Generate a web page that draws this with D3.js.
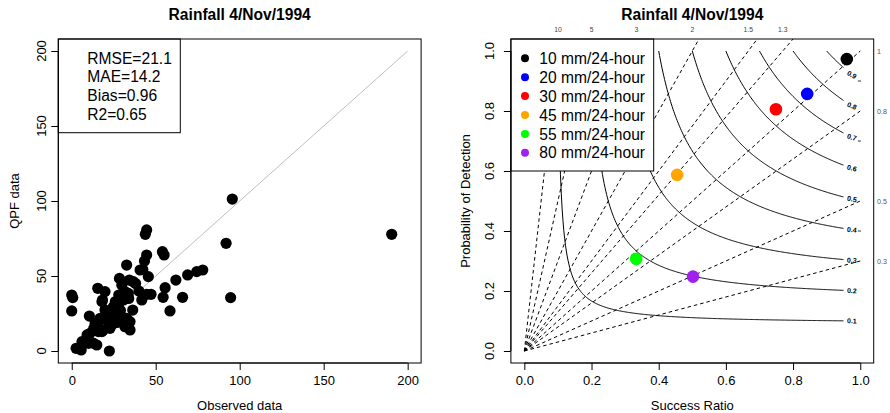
<!DOCTYPE html>
<html>
<head>
<meta charset="utf-8">
<script src="https://cdn.jsdelivr.net/npm/d3@7"></script>
<style>
  body { margin: 0; background: #fff; }
  svg { font-family: "Liberation Sans", Arial, Helvetica, sans-serif; }
</style>
</head>
<body>
<svg id="chart" width="890" height="413"></svg>
<script>
// ---- data: left panel (observed vs QPF, mm) ----
var observed = [190.5, 95.6, 91.9, 94.6,
  78, 74.4, 69, 62, 66, 58.5, 54, 55, 55.6, 54.4,
  44.6, 43.8, 44.6, 43.3, 42.3, 40.7, 45.6, 47.2, 44.6, 41.7, 40, 38,
  32.7, 28.4, 34.3, 36.7, 29.8, 31.7, 33.7, 30.8, 36.3, 27.8, 24.8, 22.8, 28.8, 32.7,
  34.7, 31.7, 34.7, 22.8, 28, 33.9, 31, 33.9, 26, 29, 25, 27,
  19.8, 15.5, 18.3, 18, 19.8, 16.9, 13.9, 10.5, 10.9, 15.9, 16, 13.1, 18, 20.8, 24.4, 18.8, 21,
  14.9, 9.9, 5.6, 2.6, 9.1, 6.1, 13.1, 22.4,
  0, 0.6, 0];
var qpfData = [77.8, 101.3, 71.8, 35.6,
  54, 52.9, 50.7, 47.3, 35.8, 26.7, 66.2, 64, 42.2, 35.8,
  80.7, 77.8, 64, 60, 54.4, 54, 49.6, 37.8, 37.8, 34, 40, 45,
  57.3, 48.4, 47.3, 46.2, 44, 39.6, 38.4, 34, 27.3, 30.7, 29.6, 25.1, 24, 21.8,
  19.6, 16.2, 14, 15.1, 37.3, 35, 21.8, 18.4, 33, 27, 22, 19,
  39.6, 41.8, 34, 32.9, 27.3, 21.8, 18.4, 23.3, 11.8, 12.9, 19.6, 15.1, 12.9, 20.7, 18, 14, 24,
  4, 5.1, 0.7, 1.8, 10.7, 6.2, 5.1, 0,
  37.3, 35.6, 26.7];
var statsText = ["RMSE=21.1", "MAE=14.2", "Bias=0.96", "R2=0.65"];
var leftTicks = [0, 50, 100, 150, 200];

// ---- data: right panel (performance diagram) ----
var thresholds = ["10 mm/24-hour", "20 mm/24-hour", "30 mm/24-hour",
                  "45 mm/24-hour", "55 mm/24-hour", "80 mm/24-hour"];
var successRatio = [0.96, 0.842, 0.749, 0.455, 0.333, 0.502];
var probDetect = [0.973, 0.857, 0.806, 0.587, 0.307, 0.248];
var thresholdColors = ["#000000", "#0000FF", "#FF0000", "#FFA500", "#00FF00", "#A020F0"];
var biasTop = [10, 5, 3, 2, 1.5, 1.3];
var biasRight = [1, 0.8, 0.5, 0.3];
var csiLevels = [0.1, 0.2, 0.3, 0.4, 0.5, 0.6, 0.7, 0.8, 0.9];
var edgeMarks = [0.9, 0.7, 0.4];
var rightTicks = [0, 0.2, 0.4, 0.6, 0.8, 1.0];

var svg = d3.select('#chart');
var fontBase = 13, fontTitle = 15.6, fontLegend = 15.6;

function frame(g, x, y) {
    g.append("rect")
        .attr("x", x.range()[0]).attr("y", y.range()[1])
        .attr("width", x.range()[1] - x.range()[0])
        .attr("height", y.range()[0] - y.range()[1])
        .attr("fill", "none").attr("stroke", "#000").attr("stroke-width", 1);
}

// R style axes: bottom ticks + rotated left labels
function axes(g, x, y, ticks, fmt, yLabelX) {
    var xa = d3.axisBottom(x).tickValues(ticks).tickSize(7).tickPadding(6).tickFormat(fmt);
    g.append("g").attr("transform", "translate(0," + y.range()[0] + ")").call(xa)
        .attr("font-size", fontBase).attr("font-family", null)
        .call(function (s) {
            s.select(".domain").attr("d", "M" + x(ticks[0]) + ",0H" + x(ticks[ticks.length - 1]));
            s.selectAll("text").attr("fill", "#000");
        });
    var ya = d3.axisLeft(y).tickValues(ticks).tickSize(7).tickFormat("");
    g.append("g").attr("transform", "translate(" + x.range()[0] + ",0)").call(ya)
        .call(function (s) {
            s.select(".domain").attr("d", "M0," + y(ticks[0]) + "V" + y(ticks[ticks.length - 1]));
        });
    g.append("g").selectAll("text").data(ticks).enter().append("text")
        .attr("transform", function (d) { return "translate(" + yLabelX + "," + y(d) + ") rotate(-90)"; })
        .attr("text-anchor", "middle").attr("font-size", fontBase)
        .text(fmt);
}

// ================= LEFT PANEL =================
var xL = d3.scaleLinear().domain([-8, 208]).range([58.3, 421.1]);
var yL = d3.scaleLinear().domain([-8, 208]).range([363, 39]);
var gL = svg.append("g");

gL.append("line")
    .attr("x1", xL(0)).attr("y1", yL(0)).attr("x2", xL(200)).attr("y2", yL(200))
    .attr("stroke", "#bebebe").attr("stroke-width", 1);

var pts = observed.map(function (o, i) { return [o, qpfData[i]]; });
gL.selectAll("circle.obs").data(pts).enter().append("circle")
    .attr("class", "obs")
    .attr("cx", function (d) { return xL(d[0]); })
    .attr("cy", function (d) { return yL(d[1]); })
    .attr("r", 5.6).attr("fill", "#000");

// stats box
gL.append("rect").attr("x", 58.3).attr("y", 39).attr("width", 122).attr("height", 93.7)
    .attr("fill", "#fff").attr("stroke", "#000");
gL.selectAll("text.stat").data(statsText).enter().append("text")
    .attr("class", "stat")
    .attr("x", 87.3).attr("y", function (d, i) { return 63.5 + i * 18.75; })
    .attr("font-size", fontLegend).text(function (d) { return d; });

frame(gL, xL, yL);
axes(gL, xL, yL, leftTicks, d3.format("d"), 45.5);

gL.append("text").attr("x", 239.7).attr("y", 20).attr("text-anchor", "middle")
    .attr("font-size", fontTitle).attr("font-weight", "bold").text("Rainfall 4/Nov/1994");
gL.append("text").attr("x", 239.7).attr("y", 410).attr("text-anchor", "middle")
    .attr("font-size", fontBase).text("Observed data");
gL.append("text").attr("transform", "translate(18.5,201) rotate(-90)").attr("text-anchor", "middle")
    .attr("font-size", fontBase).text("QPF data");

// ================= RIGHT PANEL =================
var xR = d3.scaleLinear().domain([-0.04, 1.04]).range([510.9, 873.7]);
var yR = d3.scaleLinear().domain([-0.04, 1.04]).range([363, 39]);
var gR = svg.append("g");

gR.append("clipPath").attr("id", "clipR").append("rect")
    .attr("x", xR.range()[0]).attr("y", yR.range()[1])
    .attr("width", xR.range()[1] - xR.range()[0]).attr("height", yR.range()[0] - yR.range()[1]);

// bias lines (dashed), segment from origin to SR = 1
var allBias = biasRight.concat(biasTop);
gR.append("g").attr("clip-path", "url(#clipR)")
    .selectAll("line").data(allBias).enter().append("line")
    .attr("x1", xR(0)).attr("y1", yR(0))
    .attr("x2", xR(1)).attr("y2", function (b) { return yR(b); })
    .attr("stroke", "#000").attr("stroke-width", 1).attr("stroke-dasharray", "3.5,3");

// CSI curves
function csiPod(c, sr) { return 1 / (1 / c + 1 - 1 / sr); }
var csiLine = d3.line().x(function (d) { return xR(d[0]); }).y(function (d) { return yR(d[1]); });
csiLevels.forEach(function (c) {
    var cp = d3.range(c, 0.9501, 0.0025).map(function (sr) { return [sr, csiPod(c, sr)]; });
    gR.append("path").attr("d", csiLine(cp)).attr("fill", "none")
        .attr("stroke", "#000").attr("stroke-width", 1);
    var lx = 0.975, ly = csiPod(c, lx);
    var slope = (ly / lx) * (ly / lx) * 300 / 336;
    var ang = Math.atan(slope) * 180 / Math.PI * 0.75;
    gR.append("text")
        .attr("transform", "translate(" + xR(lx) + "," + yR(ly) + ") rotate(" + ang + ")")
        .attr("text-anchor", "middle").attr("dy", "0.35em")
        .attr("font-size", 7).attr("font-weight", "bold").text(c.toFixed(1));
});
gR.selectAll("line.edge").data(edgeMarks).enter().append("line")
    .attr("class", "edge")
    .attr("x1", xR(0.993)).attr("x2", xR(1.002))
    .attr("y1", function (d) { return yR(d); }).attr("y2", function (d) { return yR(d); })
    .attr("stroke", "#000").attr("stroke-width", 0.8);

// bias labels
gR.selectAll("text.btop").data(biasTop).enter().append("text")
    .attr("class", "btop")
    .attr("x", function (b) { return xR(1 / b); }).attr("y", 32)
    .attr("text-anchor", "middle").attr("font-size", 6.8).attr("fill", "#444")
    .text(function (b) { return b; });
gR.selectAll("text.bright").data(biasRight).enter().append("text")
    .attr("class", "bright")
    .attr("x", 877).attr("y", function (b) { return yR(b); }).attr("dy", "0.35em")
    .attr("font-size", 7.2).attr("fill", "#555")
    .text(function (b) { return b; });

// threshold points
gR.selectAll("circle.thr").data(successRatio).enter().append("circle")
    .attr("class", "thr")
    .attr("cx", function (d) { return xR(d); })
    .attr("cy", function (d, i) { return yR(probDetect[i]); })
    .attr("r", 6.3).attr("fill", function (d, i) { return thresholdColors[i]; });

// legend
var leg = gR.append("g");
leg.append("rect").attr("x", 510.9).attr("y", 39).attr("width", 142.8).attr("height", 132)
    .attr("fill", "#fff").attr("stroke", "#000");
var rows = leg.selectAll("g.row").data(thresholds).enter().append("g")
    .attr("class", "row")
    .attr("transform", function (d, i) { return "translate(0," + (58.3 + i * 18.9) + ")"; });
rows.append("circle").attr("cx", 525).attr("cy", 0).attr("r", 4)
    .attr("fill", function (d, i) { return thresholdColors[i]; });
rows.append("text").attr("x", 539.3).attr("y", 5.6).attr("font-size", fontLegend)
    .text(function (d) { return d; });

frame(gR, xR, yR);
axes(gR, xR, yR, rightTicks, d3.format(".1f"), 493.5);

gR.append("text").attr("x", 692.3).attr("y", 20).attr("text-anchor", "middle")
    .attr("font-size", fontTitle).attr("font-weight", "bold").text("Rainfall 4/Nov/1994");
gR.append("text").attr("x", 692.3).attr("y", 410).attr("text-anchor", "middle")
    .attr("font-size", fontBase).text("Success Ratio");
gR.append("text").attr("transform", "translate(469.5,201) rotate(-90)").attr("text-anchor", "middle")
    .attr("font-size", fontBase).text("Probability of Detection");
</script>
</body>
</html>
